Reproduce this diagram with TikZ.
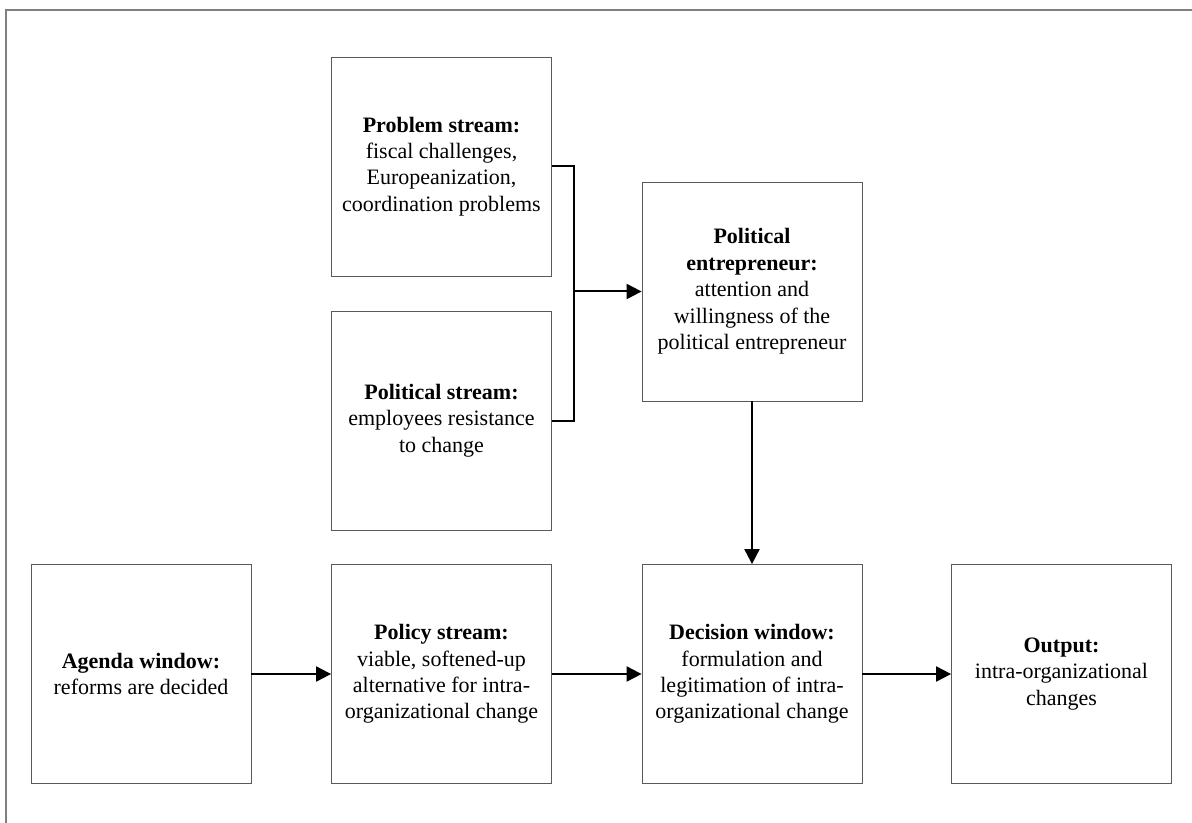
\documentclass[tikz,border=0pt]{standalone}
\usepackage{fontspec}
\setmainfont{Liberation Serif}
\usepackage{tikz}
\usetikzlibrary{arrows.meta}

\begin{document}
\begin{tikzpicture}[x=0.5pt,y=-0.5pt,
    box/.style={draw=black!65, line width=0.4pt, fill=white, align=center,
        minimum width=110pt, minimum height=109.5pt, inner sep=2pt,
        font=\fontsize{11}{13.2}\selectfont},
    flow/.style={draw=black, line width=1pt},
    arr/.style={flow, -{Triangle[length=7.5pt,width=7.5pt]}}]
    \useasboundingbox (0,0) rectangle (1192,823);
    % Moldura
    \draw[black!50, line width=1pt] (6,823) -- (6,10) -- (1192,10);
    % Correntes
    \node[box] (prob) at (441.5,166.5) {\textbf{Problem stream:}\\fiscal challenges,\\Europeanization,\\coordination problems};
    \node[box] (pols) at (441.5,420.5) {\textbf{Political stream:}\\employees resistance\\to change};
    \node[box] (entr) at (752,291.5) {\textbf{Political}\\\textbf{entrepreneur:}\\attention and\\willingness of the\\political entrepreneur};
    % Linha de baixo
    \node[box] (agenda) at (141,674) {\textbf{Agenda window:}\\reforms are decided};
    \node[box] (policy) at (441.5,674) {\textbf{Policy stream:}\\viable, softened-up\\alternative for intra-\\organizational change};
    \node[box] (decision) at (752,674) {\textbf{Decision window:}\\formulation and\\legitimation of intra-\\organizational change};
    \node[box] (output) at (1061.5,674) {\textbf{Output:}\\intra-organizational\\changes};
    % Ligações
    \coordinate (join) at (574,291.5);
    \draw[flow] (prob.east) -| (join);
    \draw[flow] (pols.east) -| (join);
    \draw[arr] (join) -- (entr.west);
    \draw[arr] (entr.south) -- (decision.north);
    \draw[arr] (agenda) -- (policy);
    \draw[arr] (policy) -- (decision);
    \draw[arr] (decision) -- (output);
\end{tikzpicture}
\end{document}
